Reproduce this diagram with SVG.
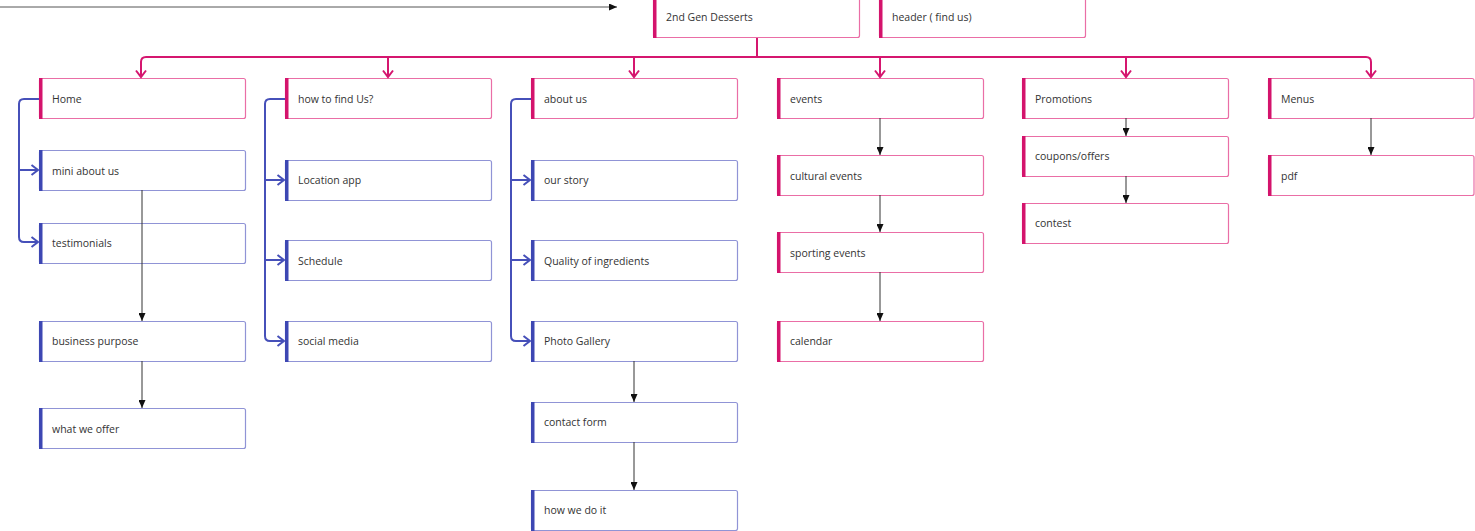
<svg xmlns="http://www.w3.org/2000/svg" width="1475" height="531" viewBox="0 0 1475 531">
<style>
.bg{fill:#ffffff}
.box{fill:#ffffff;stroke-width:1.2}
.p .box{stroke:#ea6ea6}
.b .box{stroke:#9094d6}
.p .bar{fill:#d4136c}
.b .bar{fill:#3d47b3}
text{font-family:"Open Sans","Noto Sans","Liberation Sans",sans-serif;font-size:10.5px;fill:#333}
.pc{fill:none;stroke:#d5166f;stroke-width:2}
.bc{fill:none;stroke:#4650b9;stroke-width:2}
.kc{fill:none;stroke:#333;stroke-width:1}
</style>
<defs>
<marker id="pch" viewBox="0 0 12 12" refX="10.5" refY="6" markerWidth="12" markerHeight="12" markerUnits="userSpaceOnUse" orient="auto">
<path d="M4,1 L10.5,6 L4,11" fill="none" stroke="#d5166f" stroke-width="2"/>
</marker>
<marker id="bch" viewBox="0 0 12 12" refX="10.5" refY="6" markerWidth="12" markerHeight="12" markerUnits="userSpaceOnUse" orient="auto">
<path d="M4,1 L10.5,6 L4,11" fill="none" stroke="#4650b9" stroke-width="2"/>
</marker>
<marker id="kar" viewBox="0 0 8 7" refX="8" refY="3.5" markerWidth="8" markerHeight="7" markerUnits="userSpaceOnUse" orient="auto">
<path d="M0,0 L8,3.5 L0,7 z" fill="#111"/>
</marker>
</defs>
<rect class="bg" x="0" y="0" width="1475" height="531"/>

<g id="n-gen" class="p"><rect class="box" x="653.5" y="-3" width="206" height="40.5" rx="2"/><rect class="bar" x="653" y="-3" width="3.5" height="41"/><text x="666" y="21">2nd Gen Desserts</text></g>
<g id="n-header" class="p"><rect class="box" x="879.5" y="-3" width="206" height="40.5" rx="2"/><rect class="bar" x="879" y="-3" width="3.5" height="41"/><text x="892" y="21">header ( find us)</text></g>

<g id="n-home" class="p"><rect class="box" x="39.5" y="78.5" width="206" height="40" rx="2"/><rect class="bar" x="39" y="78" width="3.5" height="41"/><text x="52" y="103">Home</text></g>
<g id="n-howfind" class="p"><rect class="box" x="285.5" y="78.5" width="206" height="40" rx="2"/><rect class="bar" x="285" y="78" width="3.5" height="41"/><text x="298" y="103">how to find Us?</text></g>
<g id="n-about" class="p"><rect class="box" x="531.5" y="78.5" width="206" height="40" rx="2"/><rect class="bar" x="531" y="78" width="3.5" height="41"/><text x="544" y="103">about us</text></g>
<g id="n-events" class="p"><rect class="box" x="777.5" y="78.5" width="206" height="40" rx="2"/><rect class="bar" x="777" y="78" width="3.5" height="41"/><text x="790" y="103">events</text></g>
<g id="n-promotions" class="p"><rect class="box" x="1022.5" y="78.5" width="206" height="40" rx="2"/><rect class="bar" x="1022" y="78" width="3.5" height="41"/><text x="1035" y="103">Promotions</text></g>
<g id="n-menus" class="p"><rect class="box" x="1268.5" y="78.5" width="205.5" height="40" rx="2"/><rect class="bar" x="1268" y="78" width="3.5" height="41"/><text x="1281" y="103">Menus</text></g>

<g id="n-miniabout" class="b"><rect class="box" x="39.5" y="150.5" width="206" height="40" rx="2"/><rect class="bar" x="39" y="150" width="3.5" height="41"/><text x="52" y="175">mini about us</text></g>
<g id="n-testimonials" class="b"><rect class="box" x="39.5" y="223.5" width="206" height="40" rx="2"/><rect class="bar" x="39" y="223" width="3.5" height="41"/><text x="52" y="247">testimonials</text></g>
<g id="n-business" class="b"><rect class="box" x="39.5" y="321.5" width="206" height="40" rx="2"/><rect class="bar" x="39" y="321" width="3.5" height="41"/><text x="52" y="345">business purpose</text></g>
<g id="n-offer" class="b"><rect class="box" x="39.5" y="408.5" width="206" height="40" rx="2"/><rect class="bar" x="39" y="408" width="3.5" height="41"/><text x="52" y="433">what we offer</text></g>

<g id="n-location" class="b"><rect class="box" x="285.5" y="160.5" width="206" height="40" rx="2"/><rect class="bar" x="285" y="160" width="3.5" height="41"/><text x="298" y="184">Location app</text></g>
<g id="n-schedule" class="b"><rect class="box" x="285.5" y="240.5" width="206" height="40" rx="2"/><rect class="bar" x="285" y="240" width="3.5" height="41"/><text x="298" y="265">Schedule</text></g>
<g id="n-social" class="b"><rect class="box" x="285.5" y="321.5" width="206" height="40" rx="2"/><rect class="bar" x="285" y="321" width="3.5" height="41"/><text x="298" y="345">social media</text></g>

<g id="n-story" class="b"><rect class="box" x="531.5" y="160.5" width="206" height="40" rx="2"/><rect class="bar" x="531" y="160" width="3.5" height="41"/><text x="544" y="184">our story</text></g>
<g id="n-quality" class="b"><rect class="box" x="531.5" y="240.5" width="206" height="40" rx="2"/><rect class="bar" x="531" y="240" width="3.5" height="41"/><text x="544" y="265">Quality of ingredients</text></g>
<g id="n-photo" class="b"><rect class="box" x="531.5" y="321.5" width="206" height="40" rx="2"/><rect class="bar" x="531" y="321" width="3.5" height="41"/><text x="544" y="345">Photo Gallery</text></g>
<g id="n-contact" class="b"><rect class="box" x="531.5" y="402.5" width="206" height="40" rx="2"/><rect class="bar" x="531" y="402" width="3.5" height="41"/><text x="544" y="426">contact form</text></g>
<g id="n-howdo" class="b"><rect class="box" x="531.5" y="490.5" width="206" height="40" rx="2"/><rect class="bar" x="531" y="490" width="3.5" height="41"/><text x="544" y="514">how we do it</text></g>

<g id="n-cultural" class="p"><rect class="box" x="777.5" y="155.5" width="206" height="40" rx="2"/><rect class="bar" x="777" y="155" width="3.5" height="41"/><text x="790" y="180">cultural events</text></g>
<g id="n-sporting" class="p"><rect class="box" x="777.5" y="232.5" width="206" height="40" rx="2"/><rect class="bar" x="777" y="232" width="3.5" height="41"/><text x="790" y="257">sporting events</text></g>
<g id="n-calendar" class="p"><rect class="box" x="777.5" y="321.5" width="206" height="40" rx="2"/><rect class="bar" x="777" y="321" width="3.5" height="41"/><text x="790" y="345">calendar</text></g>

<g id="n-coupons" class="p"><rect class="box" x="1022.5" y="136.5" width="206" height="40" rx="2"/><rect class="bar" x="1022" y="136" width="3.5" height="41"/><text x="1035" y="160">coupons/offers</text></g>
<g id="n-contest" class="p"><rect class="box" x="1022.5" y="203.5" width="206" height="40" rx="2"/><rect class="bar" x="1022" y="203" width="3.5" height="41"/><text x="1035" y="227">contest</text></g>

<g id="n-pdf" class="p"><rect class="box" x="1268.5" y="155.5" width="205.5" height="40" rx="2"/><rect class="bar" x="1268" y="155" width="3.5" height="41"/><text x="1281" y="180">pdf</text></g>

<g id="connectors">
<line x1="0" y1="7" x2="617" y2="7" stroke="#555" stroke-width="1" marker-end="url(#kar)"/>
<path class="pc" d="M757,38 V57"/>
<path class="pc" d="M141,77 V62 Q141,57 146,57 H1366 Q1371,57 1371,62 V77" marker-end="url(#pch)"/>
<path class="pc" d="M141,62 V77" marker-end="url(#pch)"/>
<path class="pc" d="M388,57 V77" marker-end="url(#pch)"/>
<path class="pc" d="M634,57 V77" marker-end="url(#pch)"/>
<path class="pc" d="M880,57 V77" marker-end="url(#pch)"/>
<path class="pc" d="M1126,57 V77" marker-end="url(#pch)"/>

<path class="bc" d="M39,99 H24 Q19,99 19,104 V170 H38" marker-end="url(#bch)"/>
<path class="bc" d="M19,170 V237 Q19,242 24,242 H38" marker-end="url(#bch)"/>

<path class="bc" d="M285,99 H270 Q265,99 265,104 V180 H284" marker-end="url(#bch)"/>
<path class="bc" d="M265,180 V260 H284" marker-end="url(#bch)"/>
<path class="bc" d="M265,260 V336 Q265,341 270,341 H284" marker-end="url(#bch)"/>

<path class="bc" d="M531,99 H516 Q511,99 511,104 V180 H530" marker-end="url(#bch)"/>
<path class="bc" d="M511,180 V260 H530" marker-end="url(#bch)"/>
<path class="bc" d="M511,260 V336 Q511,341 516,341 H530" marker-end="url(#bch)"/>

<line class="kc" x1="142" y1="190" x2="142" y2="321" marker-end="url(#kar)"/>
<line class="kc" x1="142" y1="361" x2="142" y2="408" marker-end="url(#kar)"/>
<line class="kc" x1="634" y1="361" x2="634" y2="402" marker-end="url(#kar)"/>
<line class="kc" x1="634" y1="442" x2="634" y2="490" marker-end="url(#kar)"/>
<line class="kc" x1="880" y1="118" x2="880" y2="155" marker-end="url(#kar)"/>
<line class="kc" x1="880" y1="195" x2="880" y2="232" marker-end="url(#kar)"/>
<line class="kc" x1="880" y1="272" x2="880" y2="321" marker-end="url(#kar)"/>
<line class="kc" x1="1126" y1="118" x2="1126" y2="136" marker-end="url(#kar)"/>
<line class="kc" x1="1126" y1="176" x2="1126" y2="203" marker-end="url(#kar)"/>
<line class="kc" x1="1371" y1="118" x2="1371" y2="155" marker-end="url(#kar)"/>
</g>
</svg>
